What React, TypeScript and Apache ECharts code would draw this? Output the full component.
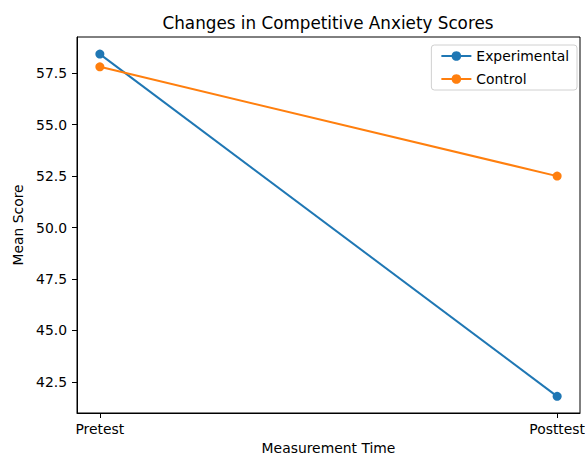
import React, { useEffect, useRef } from "react";
import * as echarts from "echarts";

const categories = ["Pretest", "Posttest"];
const experimental = [58.43, 41.8];
const control = [57.81, 52.5];
const yTicks = [42.5, 45.0, 47.5, 50.0, 52.5, 55.0, 57.5];

const FONT = "DejaVu Sans";

export default function App() {
  const ref = useRef<HTMLDivElement>(null);
  useEffect(() => {
    if (!ref.current) return;
    const chart = echarts.init(ref.current, null, { renderer: "svg" });
    const toPts = (arr: number[]) => arr.map((v, i) => [i, v]);
    chart.setOption({
      animation: false,
      backgroundColor: "#fff",
      textStyle: { fontFamily: FONT },
      title: {
        text: "Changes in Competitive Anxiety Scores",
        left: 328,
        textAlign: "center",
        top: 14,
        padding: 0,
        textStyle: { fontFamily: FONT, fontSize: 16.8, fontWeight: "normal", color: "#000" },
      },
      legend: {
        orient: "vertical",
        right: 8,
        top: 45,
        padding: [4, 8, 4, 9],
        borderColor: "#d0d0d0",
        borderWidth: 1,
        borderRadius: 3,
        itemWidth: 30,
        itemHeight: 12,
        itemGap: 9,
        textStyle: { fontFamily: FONT, fontSize: 13.9, color: "#000" },
        data: ["Experimental", "Control"],
      },
      grid: {
        left: 77,
        right: 5,
        top: 37,
        bottom: 42,
        outerBoundsMode: "none",
        containLabel: false,
        show: true,
        borderColor: "#000",
        borderWidth: 1,
        backgroundColor: "transparent",
      },
      xAxis: {
        type: "value",
        min: -0.05,
        max: 1.05,
        name: "Measurement Time",
        nameLocation: "middle",
        nameGap: 28,
        nameTextStyle: { fontFamily: FONT, fontSize: 13.9, color: "#000" },
        axisLine: { show: true, onZero: false, lineStyle: { color: "#000", width: 1 } },
        axisTick: { show: true, length: 5, lineStyle: { color: "#000" }, customValues: [0, 1] },
        axisLabel: {
          customValues: [0, 1],
          formatter: (v: number) => categories[Math.round(v)] ?? "",
          fontFamily: FONT,
          fontSize: 13.9,
          color: "#000",
          margin: 9,
        },
        splitLine: { show: false },
      },
      yAxis: {
        type: "value",
        min: 40.99,
        max: 59.26,
        name: "Mean Score",
        nameLocation: "middle",
        nameGap: 45,
        nameTextStyle: { fontFamily: FONT, fontSize: 13.9, color: "#000" },
        axisLine: { show: true, onZero: false, lineStyle: { color: "#000", width: 1 } },
        axisTick: { show: true, length: 5, lineStyle: { color: "#000" }, customValues: yTicks },
        axisLabel: {
          customValues: yTicks,
          formatter: (v: number) => v.toFixed(1),
          fontFamily: FONT,
          fontSize: 13.9,
          color: "#000",
          margin: 10,
        },
        splitLine: { show: false },
      },
      series: [
        {
          name: "Experimental",
          type: "line",
          data: toPts(experimental),
          symbol: "circle",
          symbolSize: 9,
          color: "#1f77b4",
          lineStyle: { width: 2, color: "#1f77b4" },
          itemStyle: { color: "#1f77b4" },
        },
        {
          name: "Control",
          type: "line",
          data: toPts(control),
          symbol: "circle",
          symbolSize: 9,
          color: "#ff7f0e",
          lineStyle: { width: 2, color: "#ff7f0e" },
          itemStyle: { color: "#ff7f0e" },
        },
      ],
    });
    return () => chart.dispose();
  }, []);
  return (
    <div
      ref={ref}
      style={{ position: "fixed", left: 0, top: 0, width: 585, height: 455 }}
    />
  );
}
